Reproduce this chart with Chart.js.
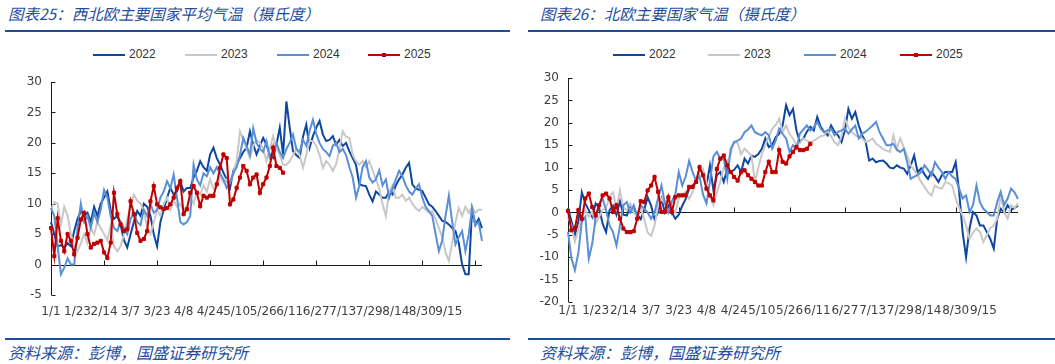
<!DOCTYPE html>
<html>
<head>
<meta charset="utf-8">
<script src="https://cdn.jsdelivr.net/npm/chart.js@4.4.1/dist/chart.umd.min.js"></script>
<style>
  body { margin: 0; background: #fff; width: 1055px; height: 364px; overflow: hidden; position: relative; font-family: "Noto Sans CJK SC", sans-serif; }
  .title { position: absolute; top: 2px; font-size: 15.5px; line-height: 22px; font-style: italic; color: #1f4e9e; white-space: nowrap; }
  .rule { position: absolute; height: 2px; background: #1f4e9e; }
  .source { position: absolute; top: 341px; font-size: 16px; line-height: 22px; font-style: italic; color: #1f4e9e; white-space: nowrap; }
  .legend { position: absolute; top: 46px; left: 0; width: 1055px; height: 18px; font: 12px "Liberation Sans", Arial, sans-serif; color: #333; }
  .key { position: absolute; top: 8px; width: 32px; height: 2px; }
  .dot { position: absolute; top: -1px; left: 14px; width: 4px; height: 4px; }
  .lab { position: absolute; top: 1px; }
  canvas { position: absolute; }
</style>
</head>
<body>
<div class="title" style="left:8px">图表25：西北欧主要国家平均气温（摄氏度）</div>
<div class="title" style="left:540px">图表26：北欧主要国家气温（摄氏度）</div>
<div class="rule" style="left:5px;width:505px;top:30px"></div>
<div class="rule" style="left:528px;width:527px;top:30px"></div>
<div class="legend" id="legend"></div>
<canvas id="westChart" width="525" height="270" style="left:0;top:60px"></canvas>
<canvas id="northChart" width="530" height="270" style="left:525px;top:60px"></canvas>
<div class="rule" style="left:5px;width:505px;top:338px"></div>
<div class="rule" style="left:528px;width:527px;top:338px"></div>
<div class="source" style="left:8px">资料来源：彭博，国盛证券研究所</div>
<div class="source" style="left:540px">资料来源：彭博，国盛证券研究所</div>
<script>
// x axis: one category every two weekdays, a label every 8 categories
const tickLabels = ['1/1', '1/23', '2/14', '3/7', '3/23', '4/8', '4/24', '5/10', '5/26', '6/11', '6/27', '7/13', '7/29', '8/14', '8/30', '9/15'];
const labelStep = 8;
const pointCount = 131;
const years = ['2022', '2023', '2024', '2025'];
const yearColors = ['#0e479f', '#c8c8c8', '#5a8fd5', '#c00000'];

// 图表25 西北欧
const west2022 = [7.0,5.0,3.0,3.2,2.8,3.5,3.0,5.5,7.5,8.8,
  8.0,8.5,7.0,9.5,8.0,10.0,11.0,12.0,9.0,7.5,
  8.0,6.5,4.0,2.8,5.0,7.0,8.8,8.0,10.0,9.5,
  8.0,5.0,3.0,7.0,9.0,11.0,12.6,11.5,12.0,13.7,
  12.0,12.6,12.6,14.3,15.4,17.0,16.0,15.4,18.1,19.2,
  17.5,16.4,15.1,14.0,12.6,15.4,16.5,17.5,18.5,19.2,
  21.9,19.7,18.1,19.5,20.8,19.7,18.0,17.5,19.7,22.5,
  18.1,26.8,22.5,18.6,18.0,17.5,21.0,23.0,19.2,21.1,
  22.5,23.6,21.4,20.3,20.5,21.1,19.7,20.5,19.5,20.0,
  18.6,17.5,16.4,13.2,13.0,12.9,11.5,10.4,12.0,11.5,
  11.0,11.0,12.0,11.5,13.0,14.0,14.8,15.9,16.7,13.2,
  12.5,12.3,12.1,11.0,9.9,9.5,8.8,8.0,7.2,7.0,
  6.6,6.0,5.5,3.5,0.0,-1.6,-1.6,9.0,6.5,7.5,
  6.0];
const west2023 = [9.0,10.3,10.0,6.5,9.5,8.0,5.0,3.0,2.2,3.5,
  5.0,3.5,6.0,5.0,7.0,6.0,5.0,4.0,6.5,3.0,
  2.2,3.0,5.0,7.5,9.5,11.5,10.5,10.0,9.0,6.0,
  5.0,7.0,9.0,8.0,10.0,11.0,9.0,10.5,9.5,10.0,
  8.8,9.5,11.0,10.0,12.0,11.5,13.0,12.0,14.0,12.5,
  13.0,14.5,13.5,14.0,13.5,15.0,17.0,21.9,20.5,19.0,
  17.5,19.5,20.5,20.0,19.0,17.0,19.0,21.1,19.2,18.0,
  16.4,16.4,17.0,18.0,19.0,18.0,15.9,18.0,20.3,20.3,
  19.5,18.0,15.9,17.0,16.4,15.4,16.5,19.0,21.9,21.0,
  20.8,18.0,17.0,16.4,17.0,16.0,17.0,15.5,14.0,12.5,
  10.0,8.0,12.0,13.0,11.0,11.0,11.5,10.5,11.0,10.0,
  9.3,8.8,9.5,9.0,8.5,8.8,7.5,6.0,4.5,2.0,
  0.6,3.5,7.0,9.3,8.0,9.5,8.5,9.5,8.5,9.0,
  9.0];
const west2024 = [9.3,8.0,3.0,-1.6,-0.5,1.0,0.0,0.0,6.0,10.0,
  7.0,8.0,6.0,8.5,7.0,9.0,12.3,11.0,8.0,6.0,
  5.5,7.0,6.0,5.0,7.5,8.5,7.0,6.5,9.0,8.0,
  10.0,8.5,9.0,11.0,12.0,13.7,12.5,14.8,11.0,7.0,
  6.6,7.0,8.0,16.4,14.0,13.0,15.0,14.5,16.0,15.0,
  16.0,15.0,14.0,12.6,13.5,15.0,16.0,18.0,20.8,19.5,
  18.0,22.4,20.0,19.0,18.5,20.3,17.5,18.0,20.0,18.5,
  17.5,19.0,20.0,21.4,19.0,18.5,20.5,19.5,22.0,23.8,
  21.5,20.0,19.0,18.5,17.8,19.5,20.0,18.5,19.0,18.0,
  16.0,14.3,11.0,13.0,16.0,17.0,14.3,13.5,14.0,15.5,
  13.0,14.0,11.0,12.5,14.0,15.4,14.5,13.0,12.0,11.5,
  12.5,13.2,11.0,9.5,8.8,8.0,5.0,2.2,4.0,8.0,
  11.3,7.0,3.3,4.5,5.5,2.2,5.0,9.3,6.5,7.0,
  3.9];
const west2025 = [6.0,1.4,7.6,3.9,2.2,5.0,3.9,1.7,4.4,7.4,
  8.5,5.0,2.8,3.4,3.6,3.9,2.0,1.1,3.6,11.8,
  8.3,6.6,5.5,5.8,10.4,8.3,5.2,3.9,4.2,5.5,
  10.4,12.9,9.9,9.4,9.1,9.3,9.9,11.0,12.6,13.7,
  8.3,9.1,11.8,12.9,11.8,9.6,11.3,11.0,11.3,11.3,
  13.2,15.9,18.1,17.5,9.9,10.7,12.6,14.3,16.2,15.4,
  13.2,14.3,14.8,11.8,13.2,14.3,16.2,19.2,16.2,15.9,
  15.1];

// 图表26 北欧
const north2022 = [1.0,-2.0,-5.0,-2.0,4.5,2.0,0.5,-1.0,2.0,1.0,
  -2.5,-4.4,0.5,1.5,-0.5,2.5,-0.5,-0.7,1.5,0.5,
  -0.5,-1.5,0.5,3.4,1.5,-1.5,0.0,3.0,0.0,1.5,
  0.0,-1.4,-0.5,1.5,3.0,5.3,6.0,6.8,9.7,9.0,
  6.0,10.5,5.0,8.3,9.0,6.8,9.8,9.0,9.5,10.5,
  9.0,12.0,10.9,12.7,12.4,13.0,14.2,16.5,14.6,15.0,
  16.8,17.5,19.4,23.9,21.7,23.1,18.3,15.7,16.5,18.0,
  19.1,18.3,21.3,19.1,18.0,17.2,19.4,18.0,17.2,15.7,
  18.3,23.1,20.9,22.4,19.4,17.2,15.7,11.6,12.0,11.2,
  11.5,11.6,10.9,10.0,9.8,10.5,10.0,9.8,8.6,10.5,
  12.7,9.0,9.8,8.5,7.5,9.0,8.0,6.8,8.3,9.0,
  9.0,9.0,11.2,4.6,-4.4,-10.0,-3.6,0.1,-0.7,-2.9,
  -2.9,-4.4,-5.9,-8.1,-1.4,0.8,0.0,1.6,0.5,1.0,
  1.5];
const north2023 = [-1.0,-3.0,-6.5,-4.0,-1.0,0.5,-1.0,0.0,-2.5,-1.0,
  0.5,1.0,3.5,4.5,1.0,4.9,1.0,0.5,2.0,0.0,
  -1.0,1.0,-1.5,-4.5,-5.2,-3.0,1.5,3.0,2.0,3.8,
  1.0,0.0,3.0,4.0,4.6,3.0,4.6,7.0,9.0,9.7,
  6.8,3.5,1.6,4.5,6.8,10.0,11.3,13.0,15.7,15.5,
  13.0,14.2,13.5,12.7,6.8,10.0,13.0,15.0,17.0,18.7,
  19.5,20.9,17.9,19.4,17.5,16.5,15.0,15.5,16.5,16.0,
  15.7,16.0,16.5,17.0,17.2,18.3,17.0,15.7,15.0,17.0,
  20.9,19.0,17.9,17.2,16.8,16.5,15.7,16.0,16.5,15.3,
  14.8,14.2,13.8,13.5,17.2,14.2,16.5,14.5,12.7,10.5,
  9.5,8.3,6.8,5.7,4.5,3.8,6.0,5.5,5.3,6.8,
  6.5,6.0,3.1,1.0,-0.7,-2.9,-5.9,-4.5,-3.6,-4.4,
  -6.6,-5.1,-3.5,-2.9,-1.4,3.8,0.1,-1.4,1.6,1.0,
  2.0];
const north2024 = [-4.4,-10.3,-12.9,-9.0,-2.0,-1.0,-10.3,-7.0,-1.0,1.6,
  3.1,0.5,-2.9,-4.4,-7.4,-3.0,1.6,2.3,0.0,1.6,
  -0.7,1.6,0.8,0.0,-1.4,0.0,3.1,6.0,2.0,0.0,
  2.5,4.0,9.0,6.0,8.0,11.5,9.0,7.0,8.0,4.0,
  2.0,6.8,12.5,13.5,12.0,12.0,7.5,14.2,15.7,16.0,
  16.5,17.9,18.5,19.4,17.9,17.5,17.2,17.9,17.2,14.2,
  16.0,18.7,17.5,16.5,13.5,15.0,14.2,17.6,18.5,19.4,
  18.3,19.0,20.2,18.7,17.9,18.3,18.7,17.2,18.0,18.3,
  18.7,17.6,18.5,19.4,16.5,17.6,18.0,18.7,19.4,20.2,
  17.9,16.5,15.0,15.0,15.3,14.0,13.5,14.2,11.2,7.5,
  8.0,8.3,9.0,10.5,9.5,8.3,11.2,10.0,9.0,7.5,
  9.0,8.0,7.5,5.3,3.1,3.8,0.1,1.6,6.0,2.3,
  0.8,0.1,-0.7,-0.7,2.3,4.6,1.6,3.1,5.3,4.5,
  3.0];
const north2025 = [0.3,-4.0,-3.5,0.5,-1.4,3.1,4.2,1.2,-0.7,1.6,
  3.8,4.2,3.1,0.1,1.6,-1.4,-3.6,-4.4,-4.4,-4.2,
  -1.4,2.5,2.3,4.9,6.0,7.9,4.6,0.1,0.1,3.4,
  0.1,3.4,3.8,3.8,3.8,5.7,5.7,6.8,10.1,8.3,
  5.3,3.8,2.7,9.7,12.0,12.7,10.5,9.0,7.9,7.1,
  9.0,9.4,8.3,7.5,6.8,6.0,6.0,9.0,11.3,9.0,
  9.0,13.9,11.3,10.9,12.5,13.5,14.6,13.9,13.9,14.2,
  15.3];

const categories = Array.from({ length: pointCount }, (_, i) =>
  i % labelStep === 0 ? (tickLabels[i / labelStep] || '') : '');

Chart.defaults.font.family = 'DejaVu Sans';
Chart.defaults.font.size = 12;
Chart.defaults.color = '#404040';

// excel style axes: y line with inner ticks, x line sitting on zero with ticks pointing up
const axisDecor = {
  id: 'axisDecor',
  beforeDatasetsDraw(chart) {
    const { ctx, chartArea: a, scales: { x, y } } = chart;
    const y0 = Math.round(y.getPixelForValue(0)) + 0.5;
    const left = Math.round(a.left) + 0.5;
    ctx.save();
    ctx.strokeStyle = '#1a1a1a';
    ctx.lineWidth = 1;
    ctx.beginPath();
    ctx.moveTo(left, a.top);
    ctx.lineTo(left, a.bottom);
    y.ticks.forEach(t => {
      const py = Math.round(y.getPixelForValue(t.value)) + 0.5;
      ctx.moveTo(left, py);
      ctx.lineTo(left + 4, py);
    });
    ctx.moveTo(left, y0);
    ctx.lineTo(a.right, y0);
    for (let i = labelStep * 2; i < pointCount; i += labelStep * 2) {
      const px = Math.round(x.getPixelForValue(i)) + 0.5;
      ctx.moveTo(px, y0);
      ctx.lineTo(px, y0 - 5);
    }
    ctx.stroke();
    ctx.restore();
  }
};

function makeDatasets(series) {
  return series.map((data, k) => ({
    label: years[k],
    data: data,
    borderColor: yearColors[k],
    backgroundColor: yearColors[k],
    borderWidth: 2,
    pointRadius: k === 3 ? 2.2 : 0,
    pointBorderWidth: 1,
    pointStyle: 'rect',
    order: 3 - k
  }));
}

function makeChart(id, series, yMin, yMax, pad, yWidth, xHeight, xPad) {
  return new Chart(document.getElementById(id), {
    type: 'line',
    data: { labels: categories, datasets: makeDatasets(series) },
    options: {
      responsive: false,
      animation: false,
      devicePixelRatio: 1,
      layout: { padding: pad },
      elements: { line: { tension: 0 } },
      plugins: { legend: { display: false }, tooltip: { enabled: false } },
      scales: {
        x: {
          grid: { display: false, drawTicks: false },
          border: { display: false },
          ticks: { autoSkip: false, maxRotation: 0, minRotation: 0, padding: xPad },
          afterFit: s => { s.height = xHeight; }
        },
        y: {
          min: yMin,
          max: yMax,
          grid: { display: false, drawTicks: false },
          border: { display: false },
          ticks: { stepSize: 5, padding: 9 },
          afterFit: s => { s.width = yWidth; }
        }
      }
    },
    plugins: [axisDecor]
  });
}

makeChart('westChart', [west2022, west2023, west2024, west2025], -5, 30,
  { top: 22, left: 0, right: 43, bottom: 5 }, 51, 30, 10);
makeChart('northChart', [north2022, north2023, north2024, north2025], -20, 30,
  { top: 18, left: 0, right: 37, bottom: 4 }, 43, 24, 2);

// legends drawn as html, one row per chart
const legendStarts = [[93, 185, 277, 368], [613, 708, 804, 900]];
const legend = document.getElementById('legend');
legendStarts.forEach(row => {
  row.forEach((x0, k) => {
    const key = document.createElement('div');
    key.className = 'key';
    key.style.left = x0 + 'px';
    key.style.background = yearColors[k];
    if (k === 3) {
      const dot = document.createElement('div');
      dot.className = 'dot';
      dot.style.background = yearColors[k];
      key.appendChild(dot);
    }
    const lab = document.createElement('div');
    lab.className = 'lab';
    lab.style.left = (x0 + 36) + 'px';
    lab.textContent = years[k];
    legend.appendChild(key);
    legend.appendChild(lab);
  });
});
</script>
</body>
</html>
